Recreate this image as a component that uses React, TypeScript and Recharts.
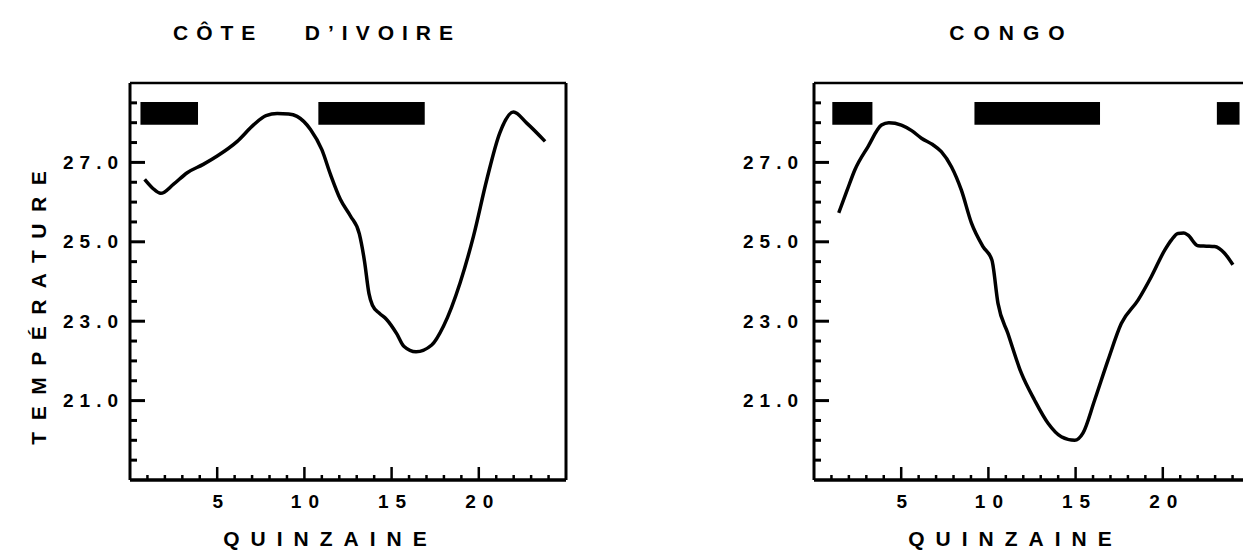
import { LineChart, Line, XAxis, YAxis, ReferenceArea, ReferenceLine } from 'recharts'

// quinzaine (fortnight) axis
const quinzaines = [1, 2, 3, 4, 5, 6, 7, 8, 9, 10, 11, 12, 13, 14, 15, 16, 17, 18, 19, 20, 21, 22, 23, 24]
const labelledQuinzaines = [5, 10, 15, 20]

// temperature axis
const tempTicks = [19.5, 20, 20.5, 21, 21.5, 22, 22.5, 23, 23.5, 24, 24.5, 25, 25.5, 26, 26.5, 27, 27.5, 28, 28.5]
const labelledTemps = [21, 23, 25, 27]

// traced curves: q = quinzaine, t = temperature
const coteDivoireCurve = [
  { q: 0.84, t: 26.57 }, { q: 1.3, t: 26.35 }, { q: 1.76, t: 26.22 }, { q: 2.5, t: 26.45 },
  { q: 3.28, t: 26.74 }, { q: 4.2, t: 26.95 }, { q: 5.0, t: 27.16 }, { q: 6.15, t: 27.53 },
  { q: 7.1, t: 27.95 }, { q: 7.8, t: 28.18 }, { q: 8.44, t: 28.23 }, { q: 9.1, t: 28.22 },
  { q: 9.58, t: 28.16 }, { q: 10.35, t: 27.83 }, { q: 11.0, t: 27.32 }, { q: 11.5, t: 26.69 },
  { q: 12.06, t: 26.07 }, { q: 12.64, t: 25.65 }, { q: 13.15, t: 25.2 }, { q: 13.45, t: 24.5 },
  { q: 13.7, t: 23.7 }, { q: 13.9, t: 23.4 }, { q: 14.3, t: 23.2 }, { q: 14.7, t: 23.05 },
  { q: 15.3, t: 22.68 }, { q: 15.7, t: 22.37 }, { q: 16.4, t: 22.23 }, { q: 17.3, t: 22.4 },
  { q: 17.98, t: 22.88 }, { q: 18.93, t: 23.97 }, { q: 19.7, t: 25.15 }, { q: 20.46, t: 26.57 },
  { q: 21.2, t: 27.74 }, { q: 21.99, t: 28.27 }, { q: 22.75, t: 27.99 }, { q: 23.8, t: 27.53 },
]

const congoCurve = [
  { q: 1.42, t: 25.73 }, { q: 1.9, t: 26.3 }, { q: 2.34, t: 26.81 }, { q: 3.1, t: 27.4 },
  { q: 3.87, t: 27.94 }, { q: 4.29, t: 28.0 }, { q: 5.01, t: 27.94 }, { q: 5.6, t: 27.8 },
  { q: 6.16, t: 27.61 }, { q: 6.8, t: 27.45 }, { q: 7.3, t: 27.27 }, { q: 7.88, t: 26.89 },
  { q: 8.45, t: 26.3 }, { q: 9.03, t: 25.47 }, { q: 9.69, t: 24.88 }, { q: 10.2, t: 24.54 },
  { q: 10.55, t: 23.45 }, { q: 11.12, t: 22.69 }, { q: 11.89, t: 21.69 }, { q: 12.65, t: 21.01 },
  { q: 13.42, t: 20.43 }, { q: 14.18, t: 20.09 }, { q: 14.95, t: 20.0 }, { q: 15.42, t: 20.18 },
  { q: 16.09, t: 21.01 }, { q: 16.86, t: 22.02 }, { q: 17.62, t: 22.94 }, { q: 18.58, t: 23.53 },
  { q: 19.34, t: 24.12 }, { q: 20.11, t: 24.79 }, { q: 20.5, t: 25.05 }, { q: 20.87, t: 25.21 },
  { q: 21.2, t: 25.22 }, { q: 21.44, t: 25.17 }, { q: 22.02, t: 24.9 }, { q: 22.5, t: 24.89 },
  { q: 22.97, t: 24.88 }, { q: 23.54, t: 24.71 }, { q: 24.02, t: 24.42 },
]

// black bands along the top (start / end quinzaine)
const coteDivoireBands = [{ from: 0.6, to: 3.9 }, { from: 10.8, to: 16.9 }]
const congoBands = [{ from: 1.05, to: 3.35 }, { from: 9.2, to: 16.4 }, { from: 23.1, to: 24.4 }]
const bandBottom = 27.95
const bandTop = 28.52

const font = "'Liberation Sans', Arial, sans-serif"
const X_MARGIN = 21
const RIGHT_MARGIN = 10

function Panel({ data, bands, left, margin, labelGap }: any) {
  const yTickLeft = (props: any) => {
    const { x, y, payload } = props
    const edge = x + labelGap
    const major = labelledTemps.includes(payload.value)
    return (
      <g>
        <line x1={edge} x2={edge + (major ? 15 : 7)} y1={y} y2={y} stroke="#000" strokeWidth={3} />
        {major && (
          <text x={x} y={y} textAnchor="end" dominantBaseline="central" fontFamily={font} fontWeight={700} fontSize={19} letterSpacing={6} fill="#000">
            {payload.value.toFixed(1)}
          </text>
        )}
      </g>
    )
  }

  const yTickRight = (props: any) => {
    const { x, y, payload } = props
    const edge = x - RIGHT_MARGIN
    const major = labelledTemps.includes(payload.value)
    return <line x1={edge} x2={edge - (major ? 15 : 6)} y1={y} y2={y} stroke="#000" strokeWidth={3} />
  }

  const xTick = (props: any) => {
    const { x, y, payload } = props
    const edge = y - X_MARGIN
    const major = labelledQuinzaines.includes(payload.value)
    return (
      <g>
        <line x1={x} x2={x} y1={edge} y2={edge - (major ? 13 : 5)} stroke="#000" strokeWidth={2.5} />
        {major && (
          <text x={x + 4} y={y} textAnchor="middle" dominantBaseline="central" fontFamily={font} fontWeight={700} fontSize={19} letterSpacing={7} fill="#000">
            {payload.value}
          </text>
        )}
      </g>
    )
  }

  return (
    <div style={{ position: 'absolute', left, top: 0 }}>
      <LineChart width={600} height={560} data={data} margin={margin}>
        <XAxis
          dataKey="q"
          type="number"
          domain={[0, 25]}
          ticks={quinzaines}
          interval={0}
          height={40}
          stroke="#000"
          axisLine={{ strokeWidth: 3.5 }}
          tickLine={false}
          tickSize={0}
          tickMargin={X_MARGIN}
          tick={xTick}
        />
        <YAxis
          yAxisId="t"
          type="number"
          domain={[19, 29]}
          ticks={tempTicks}
          interval={0}
          width={70}
          stroke="#000"
          axisLine={{ strokeWidth: 3 }}
          tickLine={false}
          tickSize={0}
          tickMargin={labelGap}
          tick={yTickLeft}
        />
        <YAxis
          yAxisId="r"
          orientation="right"
          type="number"
          domain={[19, 29]}
          ticks={tempTicks}
          interval={0}
          width={10}
          stroke="#000"
          axisLine={{ strokeWidth: 3 }}
          tickLine={false}
          tickSize={0}
          tickMargin={RIGHT_MARGIN}
          tick={yTickRight}
        />
        <ReferenceLine yAxisId="t" y={29} stroke="#000" strokeWidth={2.5} ifOverflow="visible" />
        {bands.map((b: any, i: number) => (
          <ReferenceArea
            key={i}
            yAxisId="t"
            x1={b.from}
            x2={b.to}
            y1={bandBottom}
            y2={bandTop}
            fill="#000"
            fillOpacity={1}
            stroke="none"
            ifOverflow="visible"
          />
        ))}
        <Line
          yAxisId="t"
          dataKey="t"
          type="monotone"
          stroke="#000"
          strokeWidth={3.5}
          dot={false}
          isAnimationActive={false}
        />
      </LineChart>
    </div>
  )
}

const textStyle = (x: number, y: number, spacing: number, size = 21): any => ({
  position: 'absolute',
  left: x,
  top: y,
  transform: 'translate(-50%, -50%)',
  fontFamily: font,
  fontWeight: 700,
  fontSize: size,
  letterSpacing: spacing,
  paddingLeft: spacing,
  whiteSpace: 'pre',
  color: '#000',
  lineHeight: 1,
})

export default function App() {
  return (
    <div style={{ position: 'absolute', left: 0, top: 0, width: 1243, height: 560, overflow: 'hidden', background: '#fff' }}>
      <Panel data={coteDivoireCurve} bands={coteDivoireBands} left={0} labelGap={6} margin={{ top: 83, left: 60, right: 24, bottom: 40 }} />
      <Panel data={congoCurve} bands={congoBands} left={700} labelGap={10} margin={{ top: 83, left: 44, right: 40, bottom: 40 }} />
      <div style={textStyle(313, 32, 8)}>{'CÔTE   D\u2019IVOIRE'}</div>
      <div style={textStyle(1007, 32, 9)}>CONGO</div>
      <div style={textStyle(325, 538, 11)}>QUINZAINE</div>
      <div style={textStyle(1010, 538, 11)}>QUINZAINE</div>
      <div style={{ ...textStyle(38, 308, 11.5), transform: 'translate(-50%, -50%) rotate(-90deg)' }}>TEMPÉRATURE</div>
    </div>
  )
}
